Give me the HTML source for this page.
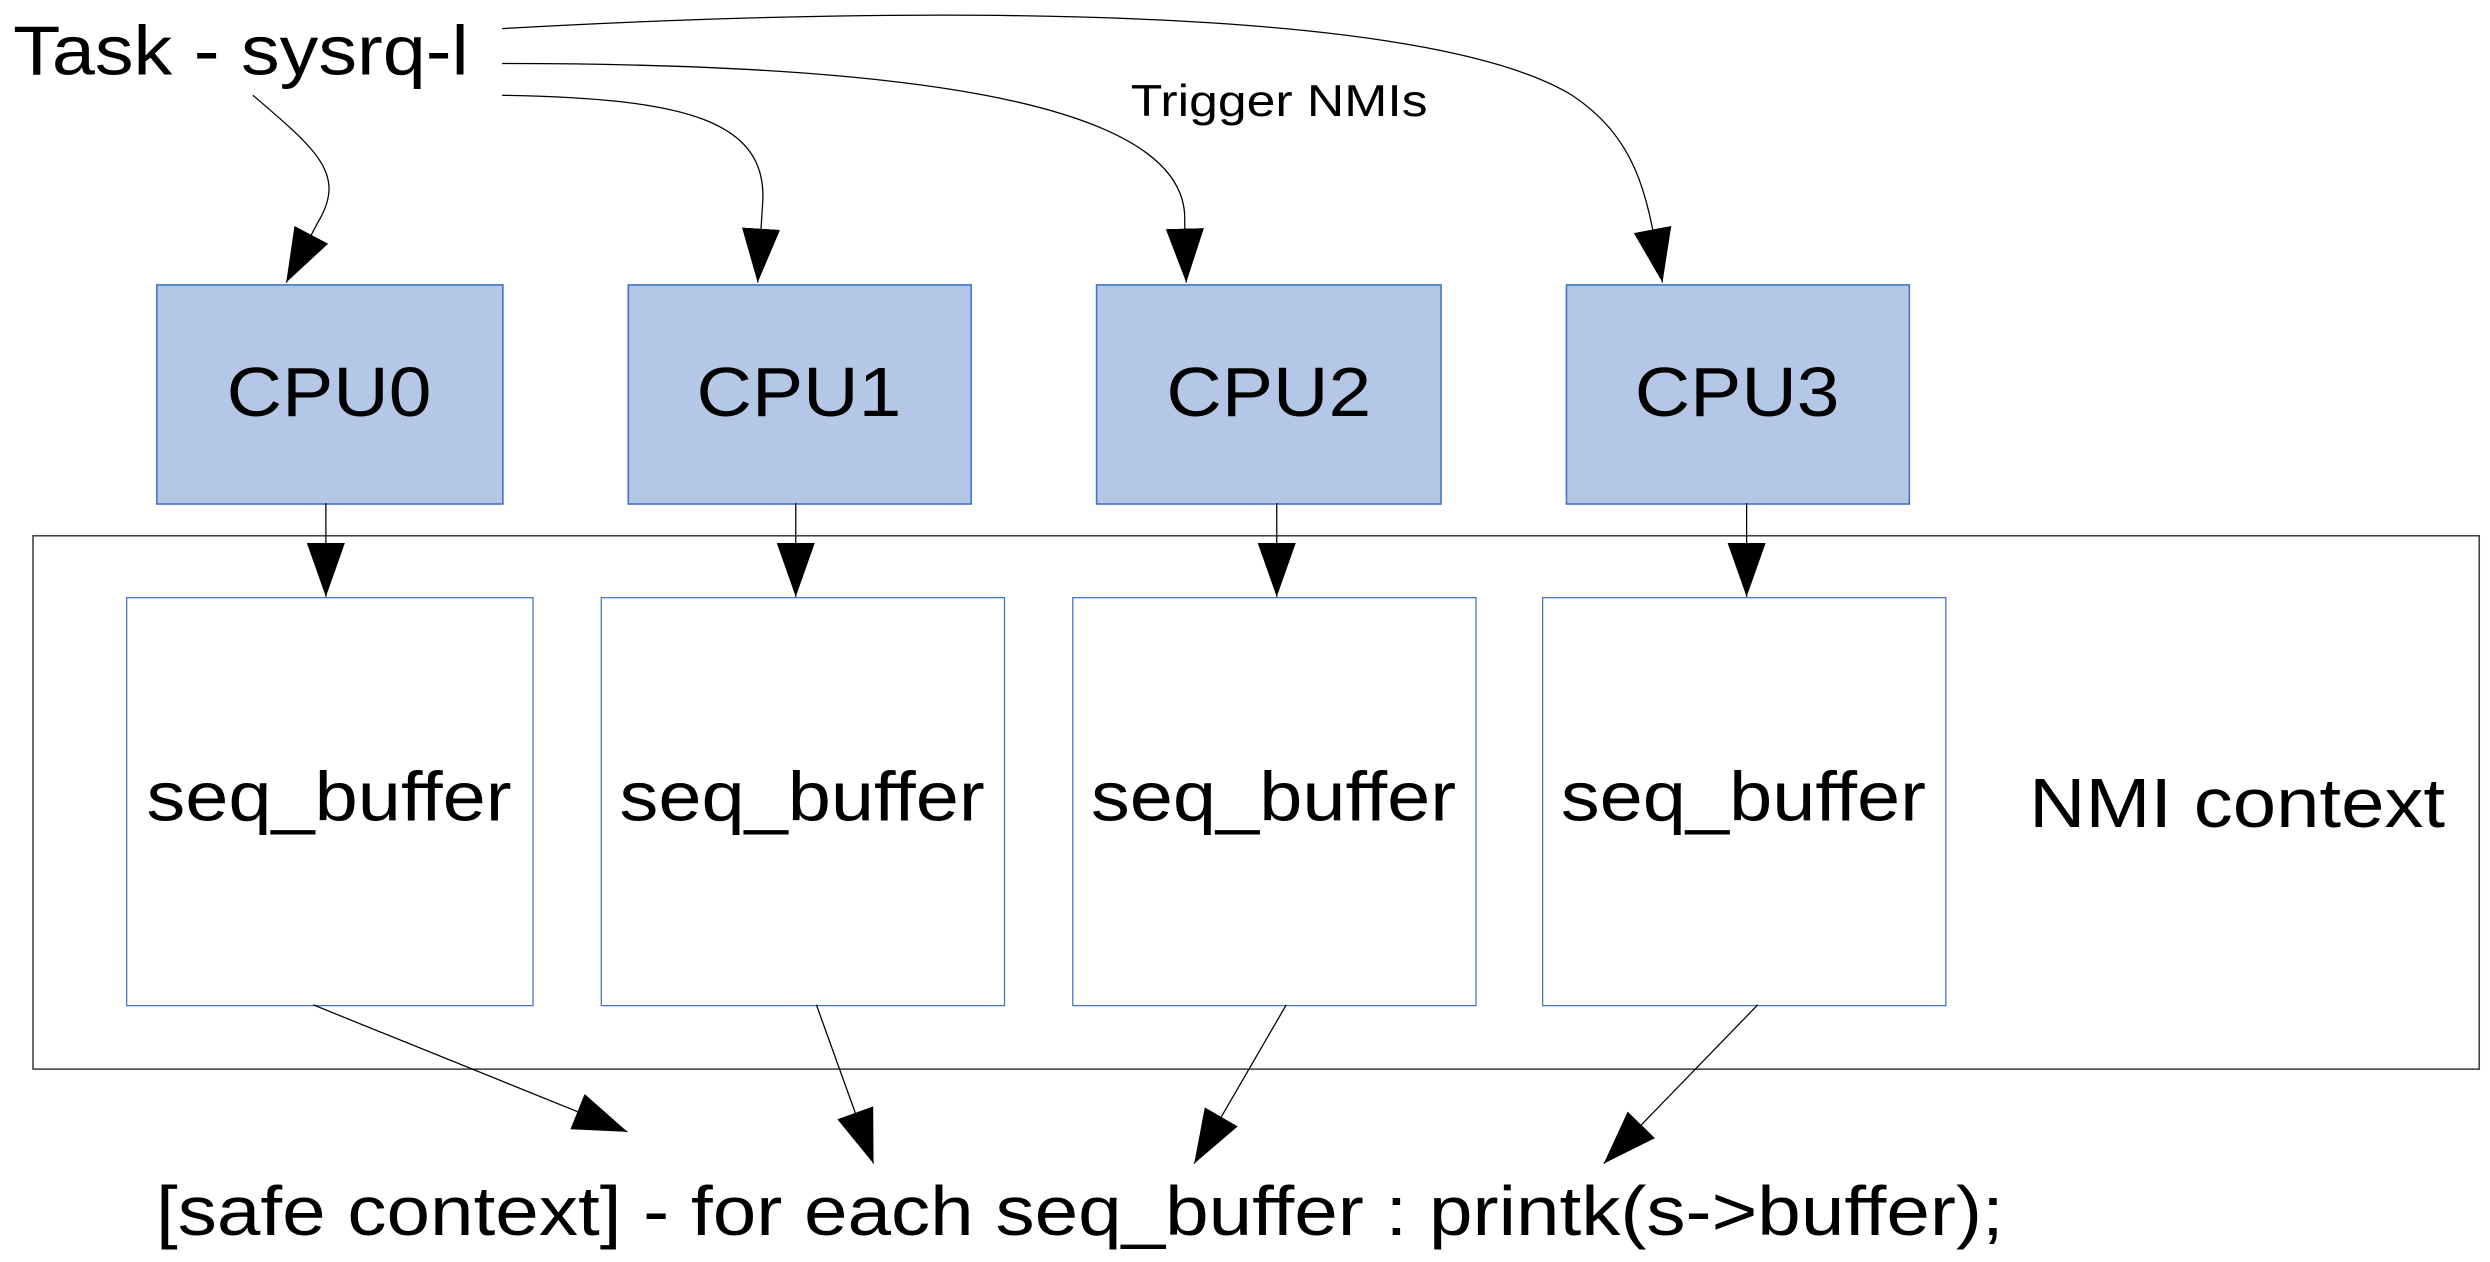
<!DOCTYPE html>
<html><head><meta charset="utf-8"><style>
html,body{margin:0;padding:0;background:#fff;}
svg{display:block;}
text{font-family:"Liberation Sans",sans-serif;fill:#000;}
</style></head><body>
<svg width="2490" height="1262" viewBox="0 0 1568 795" xmlns="http://www.w3.org/2000/svg">
<defs>
<marker id="a" markerWidth="34" markerHeight="24" refX="34" refY="12" orient="auto" markerUnits="userSpaceOnUse">
<path d="M0,0 L34,12 L0,24 Z" fill="#000"/>
</marker>
</defs>
<rect x="0" y="0" width="1568" height="795" fill="#fff"/>
<text x="8" y="47" font-size="44" textLength="287" lengthAdjust="spacingAndGlyphs">Task - sysrq-l</text>
<text x="712" y="73" font-size="28" textLength="187" lengthAdjust="spacingAndGlyphs">Trigger NMIs</text>
<g fill="none" stroke="#000" stroke-width="0.8">
<path d="M159,60 C200,95 218,110 200,140 L180,178" marker-end="url(#a)"/>
<path d="M316,60 C430,62 485,75 480,130 L477,178" marker-end="url(#a)"/>
<path d="M316,40 C550,40 750,60 746,140 L747,178" marker-end="url(#a)"/>
<path d="M316,18 C600,2 900,5 990,60 C1035,90 1038,130 1047,178" marker-end="url(#a)"/>
</g>
<g fill="#b4c7e7" stroke="#4472c4" stroke-width="1">
<rect x="98.5" y="179.5" width="218" height="138"/>
<rect x="395.5" y="179.5" width="216" height="138"/>
<rect x="690.5" y="179.5" width="217" height="138"/>
<rect x="986.5" y="179.5" width="216" height="138"/>
</g>
<g font-size="44" text-anchor="middle">
<text x="207" y="262" textLength="129" lengthAdjust="spacingAndGlyphs">CPU0</text>
<text x="503" y="262" textLength="129" lengthAdjust="spacingAndGlyphs">CPU1</text>
<text x="799" y="262" textLength="129" lengthAdjust="spacingAndGlyphs">CPU2</text>
<text x="1094" y="262" textLength="129" lengthAdjust="spacingAndGlyphs">CPU3</text>
</g>
<rect x="20.5" y="337.5" width="1541" height="336" fill="none" stroke="#444" stroke-width="1"/>
<g fill="#fff" stroke="#4472c4" stroke-width="0.8">
<rect x="79.5" y="376.5" width="256" height="257"/>
<rect x="378.5" y="376.5" width="254" height="257"/>
<rect x="675.5" y="376.5" width="254" height="257"/>
<rect x="971.5" y="376.5" width="254" height="257"/>
</g>
<g font-size="44" text-anchor="middle">
<text x="207" y="517" textLength="230" lengthAdjust="spacingAndGlyphs">seq_buffer</text>
<text x="505" y="517" textLength="230" lengthAdjust="spacingAndGlyphs">seq_buffer</text>
<text x="802" y="517" textLength="230" lengthAdjust="spacingAndGlyphs">seq_buffer</text>
<text x="1098" y="517" textLength="230" lengthAdjust="spacingAndGlyphs">seq_buffer</text>
</g>
<text x="1278" y="521" font-size="44" textLength="262" lengthAdjust="spacingAndGlyphs">NMI context</text>
<g fill="none" stroke="#000" stroke-width="0.8">
<path d="M205,317 L205,376" marker-end="url(#a)"/>
<path d="M501,317 L501,376" marker-end="url(#a)"/>
<path d="M804,317 L804,376" marker-end="url(#a)"/>
<path d="M1100,317 L1100,376" marker-end="url(#a)"/>
<path d="M197,633 L395,713" marker-end="url(#a)"/>
<path d="M514,633 L550,733" marker-end="url(#a)"/>
<path d="M810,633 L752,733" marker-end="url(#a)"/>
<path d="M1107,633 L1010,733" marker-end="url(#a)"/>
</g>
<text x="98" y="778" font-size="44" textLength="1164" lengthAdjust="spacingAndGlyphs">[safe context] - for each seq_buffer : printk(s-&gt;buffer);</text>
</svg>
</body></html>
